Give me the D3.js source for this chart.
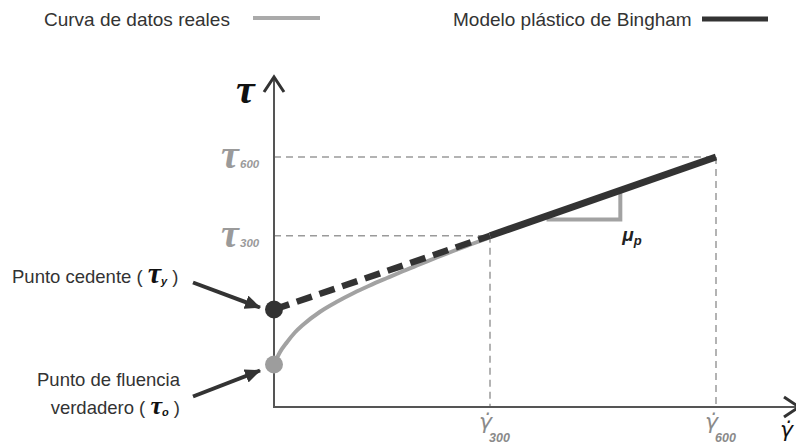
<!DOCTYPE html>
<html><head><meta charset="utf-8">
<script src="https://cdn.jsdelivr.net/npm/d3@7"></script>
<style>body{margin:0;background:#fff} svg{display:block}</style>
</head><body><svg id="c" width="796" height="448"></svg>
<script>
// ---- data ----
const shearTicks = [300, 600];
const shearTickLabels = ["300", "600"];
const stressTicks = [68.5, 100];
const stressTickLabels = ["300", "600"];
const realCurveX = [0, 8, 18, 29, 40, 64, 88, 110, 133, 157, 179, 203, 226, 249, 272, 300];
const realCurveY = [17, 21.8, 25.9, 29.8, 32.8, 38.1, 42.2, 45.5, 48.6, 51.6, 54.3, 57.1, 59.8, 62.4, 64.9, 67.9];
const binghamX = [0, 300, 600];
const binghamY = [39, 68.5, 100];
const yieldStress = 39;      // tau_y
const trueYieldStress = 17;  // tau_0
const slopeTriX = [375, 473];
const slopeTriY = 75;
const legendLabels = ["Curva de datos reales", "Modelo plástico de Bingham"];

// ---- drawing ----
const svg = d3.select("#c");
const x = d3.scaleLinear().domain([0, 300, 600, 710]).range([274, 490, 716, 799]);
const y = d3.scaleLinear().domain([0, 132]).range([407, 77]);
const bing = d3.scaleLinear().domain(binghamX).range(binghamY);

const dark = "#333", grey = "#a2a2a2", guide = "#9a9a9a";
const sans = "'Liberation Sans', Arial, sans-serif";
const serif = "'Liberation Serif', 'Times New Roman', serif";

// markers
const defs = svg.append("defs");
defs.append("marker").attr("id", "ah").attr("markerUnits", "userSpaceOnUse")
  .attr("markerWidth", 16).attr("markerHeight", 14).attr("refX", 15).attr("refY", 7)
  .attr("orient", "auto")
  .append("path").attr("d", "M0,0 L16,7 L0,14 Z").attr("fill", dark);

// guides
const g = svg.append("g");
stressTicks.forEach((t, i) => {
  g.append("line").attr("x1", x(0)).attr("x2", x(shearTicks[i]))
    .attr("y1", y(t)).attr("y2", y(t))
    .attr("stroke", guide).attr("stroke-width", 1.5).attr("stroke-dasharray", "7,5");
  g.append("line").attr("x1", x(shearTicks[i])).attr("x2", x(shearTicks[i]))
    .attr("y1", y(t)).attr("y2", y(0))
    .attr("stroke", guide).attr("stroke-width", 1.5).attr("stroke-dasharray", "7,5");
});

// axes
const ax = svg.append("g").attr("stroke", "#555").attr("fill", "none");
ax.append("line").attr("x1", x(0)).attr("x2", x(0)).attr("y1", y(0) + 1).attr("y2", y(132))
  .attr("stroke-width", 2);
ax.append("line").attr("x1", x(0) - 1).attr("x2", x(710)).attr("y1", y(0)).attr("y2", y(0))
  .attr("stroke-width", 2);
ax.append("path").attr("d", `M${x(0) - 10},${y(132) + 15} L${x(0)},${y(132)} L${x(0) + 10},${y(132) + 15}`)
  .attr("stroke", dark).attr("stroke-width", 3);
ax.append("path").attr("d", `M${x(710) - 15},${y(0) - 10} L${x(710)},${y(0)} L${x(710) - 15},${y(0) + 10}`)
  .attr("stroke", dark).attr("stroke-width", 3);

// real data curve
const curvePts = realCurveX.map((v, i) => [v, realCurveY[i]]);
svg.append("path").datum(curvePts)
  .attr("d", d3.line().x(d => x(d[0])).y(d => y(d[1])).curve(d3.curveMonotoneX))
  .attr("fill", "none").attr("stroke", grey).attr("stroke-width", 4);

// slope triangle
svg.append("path")
  .attr("d", `M${x(slopeTriX[0])},${y(slopeTriY)} L${x(slopeTriX[1])},${y(slopeTriY)} L${x(slopeTriX[1])},${y(bing(slopeTriX[1]))}`)
  .attr("fill", "none").attr("stroke", grey).attr("stroke-width", 4);

// Bingham line
const bl = d3.line().x(d => x(d[0])).y(d => y(d[1]));
const bPts = binghamX.map((v, i) => [v, binghamY[i]]);
svg.append("path").datum(bPts.slice(0, 2)).attr("d", bl)
  .attr("fill", "none").attr("stroke", dark).attr("stroke-width", 6.5).attr("stroke-dasharray", "16,8");
svg.append("path").datum(bPts.slice(1)).attr("d", bl)
  .attr("fill", "none").attr("stroke", dark).attr("stroke-width", 7);

// dots
svg.append("circle").attr("cx", x(0)).attr("cy", y(yieldStress)).attr("r", 9).attr("fill", dark);
svg.append("circle").attr("cx", x(0)).attr("cy", y(trueYieldStress)).attr("r", 9).attr("fill", "#9d9d9d");

// annotation arrows
svg.append("line").attr("x1", x(0) - 81).attr("y1", y(yieldStress) - 27)
  .attr("x2", x(0) - 14).attr("y2", y(yieldStress) - 2)
  .attr("stroke", dark).attr("stroke-width", 4).attr("marker-end", "url(#ah)");
svg.append("line").attr("x1", x(0) - 81).attr("y1", y(trueYieldStress) + 32)
  .attr("x2", x(0) - 14).attr("y2", y(trueYieldStress) + 6)
  .attr("stroke", dark).attr("stroke-width", 4).attr("marker-end", "url(#ah)");

// annotation texts
const t1 = svg.append("text").attr("x", 12).attr("y", 283).attr("font-family", sans)
  .attr("font-size", 18.5).attr("fill", dark);
t1.append("tspan").text("Punto cedente ( ");
t1.append("tspan").attr("font-family", serif).attr("font-style", "italic").attr("font-weight", "bold")
  .attr("font-size", 30).attr("fill", "#111").text("τ");
t1.append("tspan").attr("font-weight", "bold").attr("font-style", "italic").attr("font-size", 11)
  .attr("dy", 2).attr("fill", "#111").text("y");
t1.append("tspan").attr("dy", -2).text(" )");

svg.append("text").attr("x", 180).attr("y", 386).attr("text-anchor", "end")
  .attr("font-family", sans).attr("font-size", 18.5).attr("fill", dark).text("Punto de fluencia");
const t2 = svg.append("text").attr("x", 180).attr("y", 414).attr("text-anchor", "end")
  .attr("font-family", sans).attr("font-size", 18.5).attr("fill", dark);
t2.append("tspan").text("verdadero ( ");
t2.append("tspan").attr("font-family", serif).attr("font-style", "italic").attr("font-weight", "bold")
  .attr("font-size", 26).attr("fill", "#111").text("τ");
t2.append("tspan").attr("font-weight", "bold").attr("font-style", "italic").attr("font-size", 11)
  .attr("dy", 2).attr("fill", "#111").text("o");
t2.append("tspan").attr("dy", -2).text(" )");

// axis titles
svg.append("text").attr("x", 236).attr("y", 103).attr("font-family", serif).attr("font-style", "italic")
  .attr("font-weight", "bold").attr("font-size", 42).attr("fill", "#111").text("τ");
svg.append("text").attr("x", 780).attr("y", 437).attr("font-family", "'DejaVu Sans', sans-serif")
  .attr("font-style", "italic").attr("font-size", 22).attr("fill", "#111").text("γ\u0307");

// tau tick labels
stressTicks.forEach((t, i) => {
  svg.append("text").attr("x", 221).attr("y", y(t) + 11).attr("font-family", serif)
    .attr("font-style", "italic").attr("font-weight", "bold").attr("font-size", 40)
    .attr("fill", guide).text("τ");
  svg.append("text").attr("x", 240).attr("y", y(t) + 11).attr("font-family", sans)
    .attr("font-style", "italic").attr("font-weight", "bold").attr("font-size", 11.5)
    .attr("fill", guide).text(stressTickLabels[i]);
});
// gamma tick labels
shearTicks.forEach((t, i) => {
  svg.append("text").attr("x", x(t) - 11).attr("y", 429).attr("font-family", "'DejaVu Sans', sans-serif")
    .attr("font-style", "italic").attr("font-size", 22).attr("fill", "#8a8a8a").text("γ\u0307");
  svg.append("text").attr("x", x(t) - 1).attr("y", 442).attr("font-family", sans)
    .attr("font-style", "italic").attr("font-weight", "bold").attr("font-size", 12.5)
    .attr("fill", "#8a8a8a").text(shearTickLabels[i]);
});

// mu_p label
const mu = svg.append("text").attr("x", x(slopeTriX[1]) + 2).attr("y", y(slopeTriY) + 21)
  .attr("font-family", sans).attr("font-weight", "bold").attr("font-style", "italic")
  .attr("font-size", 19).attr("fill", "#222");
mu.append("tspan").text("μ");
mu.append("tspan").attr("font-size", 13).attr("dy", 4).text("p");

// legend
const leg = svg.append("g").attr("font-family", sans).attr("font-size", 19).attr("fill", dark);
leg.append("text").attr("x", 44).attr("y", 26).text(legendLabels[0]);
leg.append("line").attr("x1", 253).attr("x2", 320).attr("y1", 18).attr("y2", 18)
  .attr("stroke", "#aaa").attr("stroke-width", 4);
leg.append("text").attr("x", 453).attr("y", 26).text(legendLabels[1]);
leg.append("line").attr("x1", 702).attr("x2", 768).attr("y1", 19).attr("y2", 19)
  .attr("stroke", dark).attr("stroke-width", 5);
</script></body></html>
